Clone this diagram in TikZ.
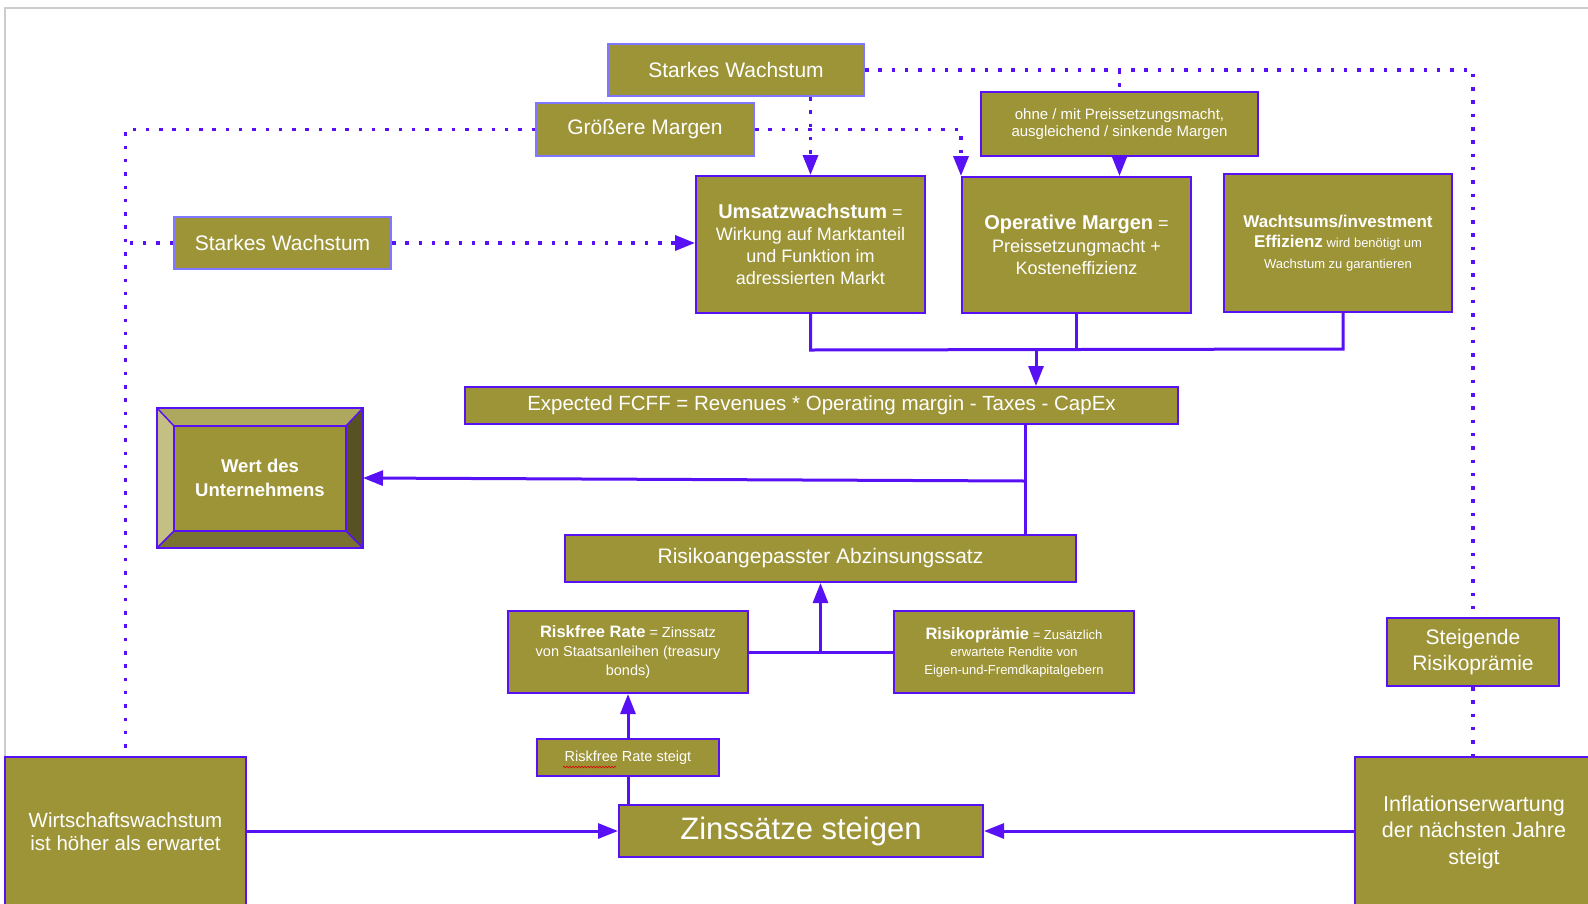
\documentclass[tikz,border=0pt]{standalone}
\usepackage{fontspec}
\setmainfont{Liberation Sans}
\usetikzlibrary{arrows.meta,calc,decorations.pathmorphing}
\definecolor{olv}{RGB}{157,148,56}
\definecolor{pur}{RGB}{88,16,245}
\definecolor{lpur}{RGB}{125,120,255}
\definecolor{frm}{RGB}{205,205,205}
\definecolor{bvT}{RGB}{174,168,94}
\definecolor{bvL}{RGB}{196,191,131}
\definecolor{bvR}{RGB}{88,82,34}
\definecolor{bvB}{RGB}{122,114,48}
\newcommand{\fsz}[2]{\fontsize{#1}{#2}\selectfont}
\begin{document}
\begin{tikzpicture}[x=1pt,y=-1pt,
  box/.style={draw=pur, line width=2pt, fill=olv, text=white, inner sep=0pt, align=center},
  lbox/.style={box, draw=lpur},
  conn/.style={draw=pur, line width=3pt},
  dots/.style={draw=pur, line width=3.5pt, dash pattern=on 3.5pt off 9.8pt},
  tip/.style={-{Triangle[length=20pt,width=15pt]}},
  bev/.style={draw=pur, line width=1.5pt}
]
\clip (0,0) rectangle (1588,903);
\fill[white] (0,0) rectangle (1588,903);
\draw[frm, line width=1.5pt] (1588,8) -- (5,8) -- (5,903);

% nodes
\node[lbox, minimum width=256pt, minimum height=52pt, font=\fsz{21}{25}] (sw1) at (736,70) {Starkes Wachstum};
\node[lbox, minimum width=218pt, minimum height=53pt, font=\fsz{21}{25}] (gm) at (645,129.5) {Größere Margen};
\node[box, minimum width=277pt, minimum height=64pt, font=\fsz{15}{17}] (ohne) at (1119.5,124) {ohne / mit Preissetzungsmacht,\\ausgleichend / sinkende Margen};
\node[lbox, minimum width=217pt, minimum height=52pt, font=\fsz{21}{25}] (sw2) at (282.5,243) {Starkes Wachstum};
\node[box, minimum width=229pt, minimum height=137pt, font=\fsz{18}{22}] (ums) at (810.5,244.5) {{\bfseries\fsz{20}{22}Umsatzwachstum} =\\Wirkung auf Marktanteil\\und Funktion im\\adressierten Markt};
\node[box, minimum width=229pt, minimum height=136pt, font=\fsz{18}{22.5}] (opm) at (1076.5,245) {{\bfseries\fsz{20}{22.5}Operative Margen} =\\Preissetzungmacht +\\Kosteneffizienz};
\node[box, minimum width=228pt, minimum height=138pt, font=\fsz{13}{20.5}] (wach) at (1338,243) {{\bfseries\fsz{17}{20.5}Wachtsums/investment}\\{\bfseries\fsz{17}{20.5}Effizienz} wird benötigt um\\Wachstum zu garantieren};
\node[box, minimum width=713pt, minimum height=37pt, font=\fsz{20.5}{24}] (fcff) at (821.5,405.5) {Expected FCFF = Revenues * Operating margin - Taxes - CapEx};
\node[box, minimum width=204pt, minimum height=138pt, font=\bfseries\fsz{18.5}{24}] (wert) at (260,478) {Wert des\\Unternehmens};
\node[box, minimum width=511pt, minimum height=47pt, font=\fsz{21}{25}] (risk) at (820.5,558.5) {Risikoangepasster Abzinsungssatz};
\node[box, minimum width=240pt, minimum height=82pt, font=\fsz{14.5}{19}] (rf) at (628,652) {{\bfseries\fsz{16.5}{19}Riskfree Rate} = Zinssatz\\von Staatsanleihen (treasury\\bonds)};
\node[box, minimum width=240pt, minimum height=82pt, font=\fsz{13}{17.5}] (rp) at (1014,652) {{\bfseries\fsz{16.5}{17.5}Risikoprämie} = Zusätzlich\\erwartete Rendite von\\Eigen-und-Fremdkapitalgebern};
\node[box, minimum width=172pt, minimum height=68pt, font=\fsz{21}{26}] (steig) at (1473,652) {Steigende\\Risikoprämie};
\node[box, minimum width=182pt, minimum height=37pt, font=\fsz{14.5}{17}] (rfs) at (628,757.5) {Riskfree Rate steigt};
\node[box, minimum width=364pt, minimum height=52pt, font=\fsz{31}{36}] (zins) at (801,831) {Zinssätze steigen};
\node[box, minimum width=241pt, minimum height=150pt, font=\fsz{20.5}{23}] (wirt) at (125.5,832) {Wirtschaftswachstum\\ist höher als erwartet};
\node[box, minimum width=238pt, minimum height=150pt, font=\fsz{21.5}{26.5}] (infl) at (1474,832) {Inflationserwartung\\der nächsten Jahre\\steigt};

% bevel of the value box
\fill[bvT] (wert.north west) -- (wert.north east) -- ($(wert.north east)+(-17,18)$) -- ($(wert.north west)+(17,18)$) -- cycle;
\fill[bvL] (wert.north west) -- ($(wert.north west)+(17,18)$) -- ($(wert.south west)+(17,-17)$) -- (wert.south west) -- cycle;
\fill[bvR] (wert.north east) -- ($(wert.north east)+(-17,18)$) -- ($(wert.south east)+(-17,-17)$) -- (wert.south east) -- cycle;
\fill[bvB] (wert.south west) -- ($(wert.south west)+(17,-17)$) -- ($(wert.south east)+(-17,-17)$) -- (wert.south east) -- cycle;
\draw[bev] ($(wert.north west)+(17,18)$) rectangle ($(wert.south east)+(-17,-17)$);
\draw[bev] (wert.north west) -- ++(17,18);
\draw[bev] (wert.north east) -- ++(-17,18);
\draw[bev] (wert.south west) -- ++(17,-17);
\draw[bev] (wert.south east) -- ++(-17,-17);
\draw[pur, line width=2pt] (wert.north west) rectangle (wert.south east);

% spell-check squiggle
\draw[red!85!black, line width=0.6pt, decorate, decoration={snake, amplitude=0.8pt, segment length=3pt}] ($(rfs.center)+(-65,9.5)$) -- ++(53,0);

% dotted connectors
\draw[dots, tip] (ums.north |- sw1.south) -- (ums.north);
\draw[dots, tip] (gm.east) -| (opm.north west);
\draw[dots] (gm.west) -| (wirt.north);
\draw[dots] (sw2.west) -- (sw2.west -| wirt.north);
\draw[dots, tip] (sw2.east) -- (sw2.east -| ums.west);
\draw[dots] (sw1.east) -| (steig.north);
\draw[dots] (ohne.north |- sw1.east) -- (ohne.north);
\draw[dots] (steig.south) -- (steig.south |- infl.north);

% solid connectors
\coordinate (jL) at ($(ums.south)+(0,36)$);
\coordinate (jA) at (1036,349);
\coordinate (jB) at (1025,481);
\coordinate (jW) at (1343,349);
\draw[conn, tip] (ohne.south) -- (ohne.south |- opm.north);
\draw[conn] (ums.south) -- (jL) -- (jW) -- (jW |- wach.south);
\draw[conn] (opm.south) -- (opm.south |- jL);
\draw[conn, tip] (jA) -- (jA |- fcff.north);
\draw[conn] (fcff.south -| jB) -- (risk.north -| jB);
\draw[conn, tip] (jB) -- (wert.east);
\draw[conn] (rf.east) -- (rp.west);
\draw[conn, tip] (risk.south |- rf.east) -- (risk.south);
\draw[conn, tip] (rfs.north) -- (rf.south);
\draw[conn] (zins.north -| rfs.south) -- (rfs.south);
\draw[conn, tip] (wirt.east |- zins.west) -- (zins.west);
\draw[conn, tip] (infl.west |- zins.east) -- (zins.east);
\end{tikzpicture}
\end{document}
